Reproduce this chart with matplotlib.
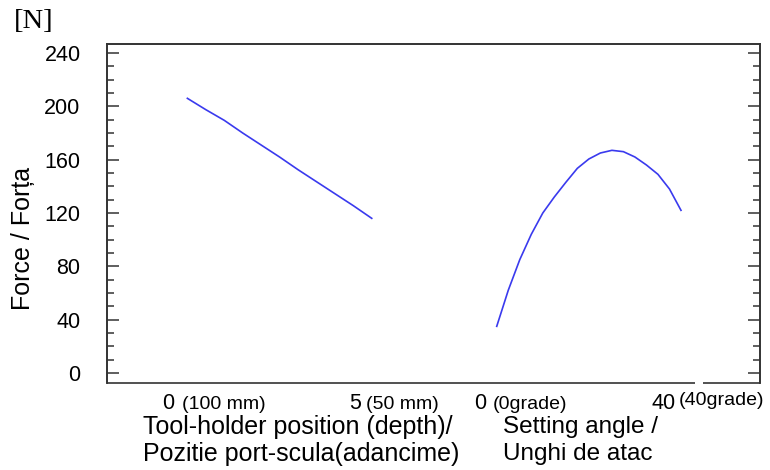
import matplotlib
matplotlib.use("Agg")
import matplotlib.pyplot as plt
from matplotlib.ticker import MultipleLocator

# tool-holder position (depth), 0 = 100 mm ... 5 = 50 mm
depth = [0, 0.5, 1.0, 1.5, 2.0, 2.5, 3.0, 3.5, 4.0, 4.5, 5.0]
force_depth = [206, 197.5, 189.5, 180, 171, 162, 152.5, 143.5, 134.5, 125.5, 116]

# setting angle [grade]
angle = [0, 2.5, 5, 7.5, 10, 12.5, 15, 17.5, 20, 22.5, 25, 27.5, 30, 32.5, 35, 37.5, 40]
force_angle = [35, 62, 85, 104, 120, 132, 143, 153.5, 160.5, 165, 167, 166, 162, 156, 149, 138, 122]

yticks = [0, 40, 80, 120, 160, 200, 240]

W, H = 770, 470
plt.rcParams['font.family'] = ['Liberation Sans', 'DejaVu Sans']

fig = plt.figure(figsize=(W / 100, H / 100), dpi=100)
# box in pixels: left 107, right 760, top 44, bottom 383
ax = fig.add_axes([107 / W, 1 - 383 / H, (760 - 107) / W, (383 - 44) / H])
ax2 = ax.twiny()

line_col = '#3a3aee'
ax.plot(depth, force_depth, color=line_col, lw=1.2)
ax2.plot(angle, force_angle, color=line_col, lw=1.2)

ax.set_xlim(-2.18, 15.53)
ax2.set_xlim(-84.6, 57.15)
ax.set_ylim(-7.5, 246.75)

spine_col = '#333333'
for a in (ax, ax2):
    for s in a.spines.values():
        s.set_color(spine_col)
        s.set_linewidth(1.2)
    a.spines['bottom'].set_visible(False)
ax2.set_xticks([])
ax.set_xticks([])

ax.yaxis.set_major_locator(MultipleLocator(40))
ax.yaxis.set_minor_locator(MultipleLocator(10))
ax.set_yticks(yticks)
ax.tick_params(axis='y', which='both', direction='in', left=True, right=True,
               color=spine_col, width=1.1, labelsize=15.5, pad=19)
ax.tick_params(axis='y', which='major', length=8.5)
ax.tick_params(axis='y', which='minor', length=4.8)

# bottom frame with a small break near the right end
gap_a, gap_b = (695 - 107) / 653, (703 - 107) / 653
for x0, x1 in [(0, gap_a), (gap_b, 1)]:
    ax.plot([x0, x1], [0, 0], transform=ax.transAxes, color=spine_col,
            lw=1.2, clip_on=False, solid_capstyle='butt')

# x "tick" labels (text, left px, baseline px, size)
xlab_parts = [("0", 162, 409, 15.5), ("(100 mm)", 182, 409, 14),
              ("5", 349, 409, 15.5), ("(50 mm)", 366, 409, 14),
              ("0", 474, 409, 15.5), ("(0grade)", 493, 409, 14),
              ("40", 652, 409, 15.5), ("(40grade)", 679, 405, 14)]
for txt, px, py, sz in xlab_parts:
    fig.text(px / W, 1 - py / H, txt, fontsize=sz, ha='left', va='baseline')

fig.text(143 / W, 1 - 434 / H, "Tool-holder position (depth)/", fontsize=18,
         ha='left', va='baseline')
fig.text(143 / W, 1 - 461 / H, "Pozitie port-scula(adancime)", fontsize=18,
         ha='left', va='baseline')
fig.text(503 / W, 1 - 433 / H, "Setting angle /", fontsize=17.5,
         ha='left', va='baseline')
fig.text(503 / W, 1 - 460 / H, "Unghi de atac", fontsize=17.5,
         ha='left', va='baseline')

fig.text(23 / W, 1 - 238 / H, "Force / Forța", fontsize=18, rotation=90,
         ha='center', va='center')
fig.text(34 / W, 1 - 21 / H, "[N]", fontsize=20.5, family='Liberation Serif',
         ha='center', va='center')

fig.savefig("out.png", dpi=100)
